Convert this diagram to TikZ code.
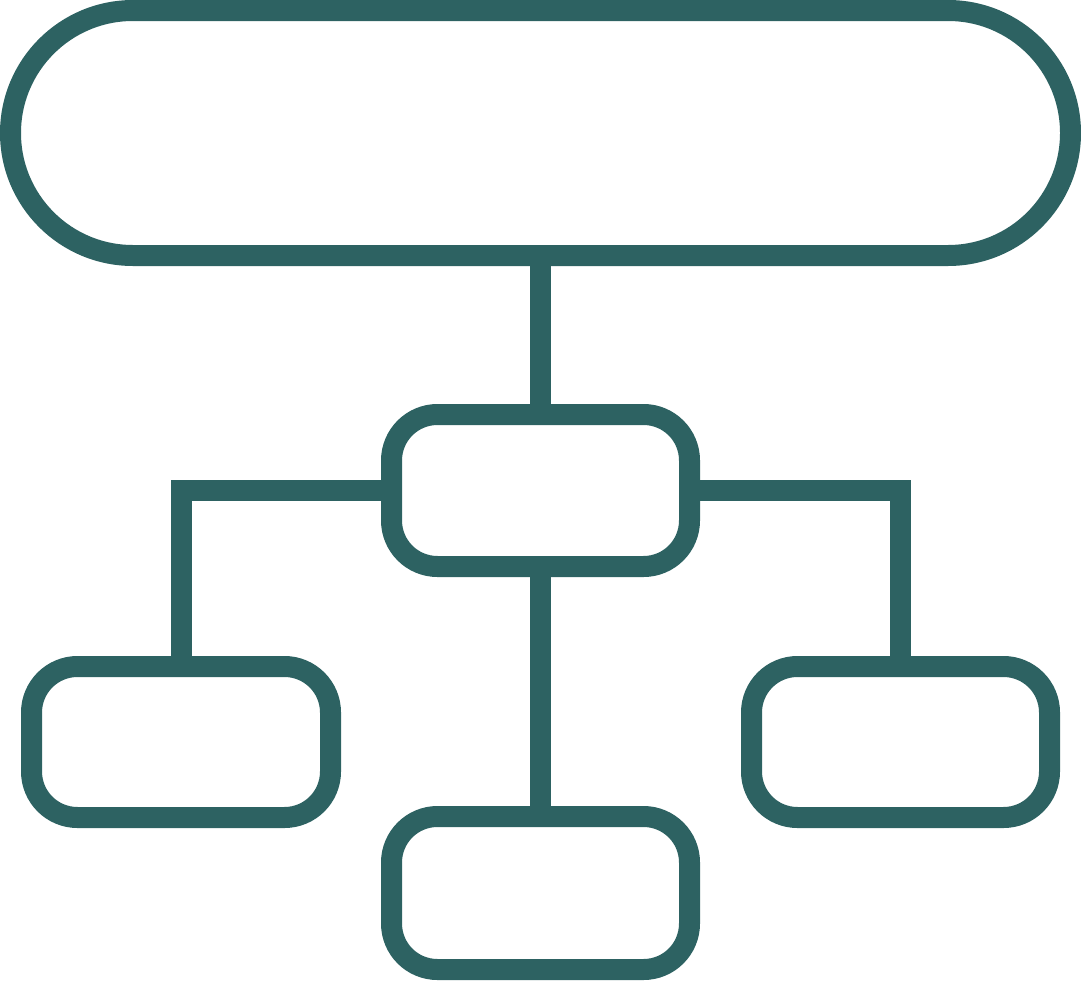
\documentclass[tikz,border=0pt]{standalone}
\definecolor{teal}{HTML}{2D6262}
\tikzset{
  box/.style={draw=teal, line width=21pt, rectangle, inner sep=0pt, rounded corners=46pt},
  link/.style={draw=teal, line width=21pt, line join=miter}
}
\begin{document}
\begin{tikzpicture}[x=1pt,y=-1pt]
\useasboundingbox (0,0) rectangle (1081,980);
\node[box, minimum width=1060pt, minimum height=245pt, rounded corners=122.5pt] (top) at (540.5,133) {};
\node[box, minimum width=298pt, minimum height=152pt] (mid) at (540.5,490.5) {};
\node[box, minimum width=299pt, minimum height=151pt] (left) at (181,742) {};
\node[box, minimum width=298pt, minimum height=151pt] (right) at (900.5,742) {};
\node[box, minimum width=298pt, minimum height=153pt] (bottom) at (540.5,893) {};
\draw[link] (top.south) -- (mid.north);
\draw[link] (mid.south) -- (bottom.north);
\draw[link] (mid.west) -| (left.north);
\draw[link] (mid.east) -| (right.north);
\end{tikzpicture}
\end{document}
